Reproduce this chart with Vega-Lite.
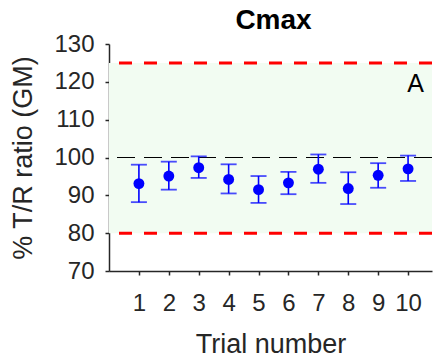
{
  "$schema": "https://vega.github.io/schema/vega-lite/v6.json",
  "width": 323,
  "height": 227,
  "autosize": {"type": "none"},
  "padding": {"left": 109, "top": 44, "right": 3, "bottom": 86},
  "background": "white",
  "title": {
    "text": "Cmax",
    "font": "Liberation Sans",
    "fontSize": 28,
    "fontWeight": "bold",
    "color": "#000000",
    "anchor": "middle",
    "offset": -3,
    "dx": 3
  },
  "config": {
    "view": {"stroke": null},
    "axis": {
      "grid": false,
      "labelOverlap": false,
      "labelFlush": false,
      "domainColor": "#262626",
      "domainWidth": 1.5,
      "tickColor": "#262626",
      "tickWidth": 1.5,
      "tickSize": 4,
      "labelColor": "#262626",
      "labelFont": "Liberation Sans",
      "labelFontSize": 24,
      "titleColor": "#262626",
      "titleFont": "Liberation Sans",
      "titleFontSize": 27,
      "titleFontWeight": "normal"
    }
  },
  "datasets": {
    "trials": [
      {"trial": 1, "gm": 93.1, "lo": 88.2, "hi": 98.1},
      {"trial": 2, "gm": 95.1, "lo": 91.5, "hi": 98.9},
      {"trial": 3, "gm": 97.3, "lo": 94.6, "hi": 100.3},
      {"trial": 4, "gm": 94.2, "lo": 90.5, "hi": 98.2},
      {"trial": 5, "gm": 91.5, "lo": 88.0, "hi": 95.1},
      {"trial": 6, "gm": 93.3, "lo": 90.3, "hi": 96.2},
      {"trial": 7, "gm": 96.9, "lo": 93.3, "hi": 100.8},
      {"trial": 8, "gm": 91.8, "lo": 87.7, "hi": 96.1},
      {"trial": 9, "gm": 95.3, "lo": 92.0, "hi": 98.5},
      {"trial": 10, "gm": 97.0, "lo": 93.8, "hi": 100.5}
    ],
    "limits": [{"lower": 80, "upper": 125}],
    "reference": [{"ratio": 100}],
    "panel": [{"label": "A", "trial": 10.25, "ratio": 117.2}]
  },
  "layer": [
    {
      "data": {"name": "limits"},
      "mark": {"type": "rect", "color": "#F2FCF2"},
      "encoding": {
        "y": {
          "field": "lower",
          "type": "quantitative",
          "scale": {"domain": [70, 130], "nice": false, "zero": false},
          "axis": {
            "values": [70, 80, 90, 100, 110, 120, 130],
            "tickCount": 20,
            "format": "d",
            "title": "% T/R ratio (GM)",
            "labelPadding": 11,
            "titlePadding": 16
          }
        },
        "y2": {"field": "upper"}
      }
    },
    {
      "data": {"name": "limits"},
      "mark": {"type": "rule", "color": "#FF0000", "strokeWidth": 3, "strokeDash": [13, 12]},
      "encoding": {"y": {"field": "lower", "type": "quantitative"}}
    },
    {
      "data": {"name": "limits"},
      "mark": {"type": "rule", "color": "#FF0000", "strokeWidth": 3, "strokeDash": [13, 12]},
      "encoding": {"y": {"field": "upper", "type": "quantitative"}}
    },
    {
      "data": {"name": "reference"},
      "mark": {"type": "rule", "color": "#000000", "strokeWidth": 1.2, "strokeDash": [18, 9]},
      "encoding": {"y": {"field": "ratio", "type": "quantitative"}}
    },
    {
      "data": {"name": "trials"},
      "mark": {"type": "rule", "color": "#0000FF", "strokeWidth": 1.6},
      "encoding": {
        "x": {
          "field": "trial",
          "type": "quantitative",
          "scale": {"domain": [0, 10.8], "nice": false, "zero": false},
          "axis": {
            "values": [1, 2, 3, 4, 5, 6, 7, 8, 9, 10],
            "tickCount": 20,
            "format": "d",
            "title": "Trial number",
            "labelPadding": 16,
            "titlePadding": 16,
            "titleAnchor": "middle"
          }
        },
        "y": {"field": "lo", "type": "quantitative"},
        "y2": {"field": "hi"}
      }
    },
    {
      "data": {"name": "trials"},
      "mark": {"type": "tick", "orient": "horizontal", "color": "#0000FF", "size": 16, "thickness": 1.8},
      "encoding": {
        "x": {"field": "trial", "type": "quantitative"},
        "y": {"field": "lo", "type": "quantitative"}
      }
    },
    {
      "data": {"name": "trials"},
      "mark": {"type": "tick", "orient": "horizontal", "color": "#0000FF", "size": 16, "thickness": 1.8},
      "encoding": {
        "x": {"field": "trial", "type": "quantitative"},
        "y": {"field": "hi", "type": "quantitative"}
      }
    },
    {
      "data": {"name": "trials"},
      "mark": {"type": "circle", "color": "#0000FF", "opacity": 1, "size": 119},
      "encoding": {
        "x": {"field": "trial", "type": "quantitative"},
        "y": {"field": "gm", "type": "quantitative"}
      }
    },
    {
      "data": {"name": "panel"},
      "mark": {"type": "text", "font": "Liberation Sans", "fontSize": 25, "color": "#000000", "align": "center", "baseline": "alphabetic"},
      "encoding": {
        "x": {"field": "trial", "type": "quantitative"},
        "y": {"field": "ratio", "type": "quantitative"},
        "text": {"field": "label"}
      }
    }
  ]
}
